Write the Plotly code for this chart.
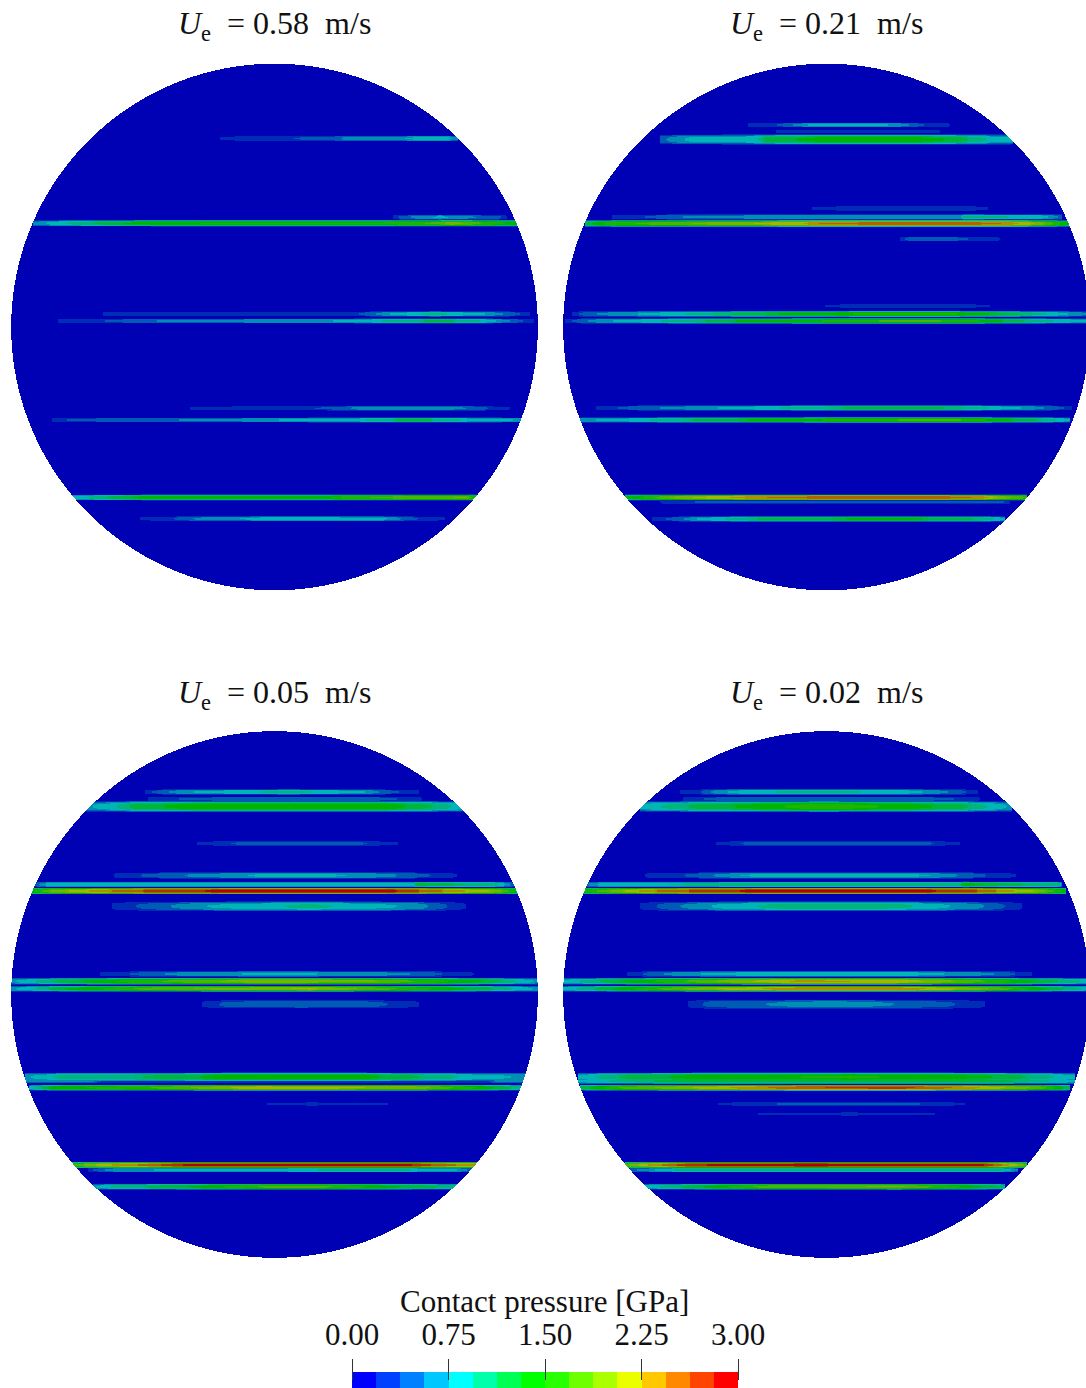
import numpy as np
import plotly.graph_objects as go

W, H = 1086, 1388

SPEEDS = ["0.58", "0.21", "0.05", "0.02"]
BAR_TICKS = [0.0, 0.75, 1.5, 2.25, 3.0]
BAR_EDGES = 16
BAND_COLOURS = [(0,0,255),(0,64,255),(0,128,255),(0,200,255),(0,255,255),(0,255,170),(0,255,85),(0,255,0),
                (40,255,0),(110,255,0),(170,255,0),(235,255,0),(255,200,0),(255,136,0),(255,68,0),(255,0,0)]
SHADE = 0.71

# each ridge: (y position, half thickness, x stations, pressure in GPa at the stations)
RIDGES_058 = [
 (138.5,3,[220,330,345,400,405,440,458],[.22,.45,.6,.65,.75,.85,.7]),
 (223.3,3.2,[33,60,120,200,380,440,450,490,519],[.6,.9,1.3,1.5,1.5,1.75,2.0,1.6,1.4]),
 (217.3,2.6,[393,413,440,500,507],[.3,.6,.8,.4,.25]),
 (314,2.8,[103,352,371,393,435,486,518,530],[.25,.3,.5,.8,1.0,.75,.4,.25]),
 (321,2.6,[58,93,109,181,310,352,414,445,486,525,534],[.25,.3,.4,.65,.7,.8,1.1,1.2,.9,.35,.28]),
 (408.3,2.6,[190,269,331,367,435,480,495,510],[.22,.3,.4,.7,.7,.5,.25,.2]),
 (420,2.6,[52,70,124,207,300,352,414,466,505,522],[.25,.4,.5,.6,.8,.85,1.25,.9,.8,.7]),
 (497.5,3,[72,114,145,331,373,466,477],[.8,1.2,1.4,1.5,1.7,1.9,1.4]),
 (518.7,2.6,[140,171,197,269,383,414,445],[.22,.35,.6,.85,.8,.4,.22]),
]
RIDGES_021 = [
 (125,2.6,[748,775,812,895,930,950],[.25,.35,.8,.75,.3,.22]),
 (131.5,2.4,[776,940],[.3,.3]),
 (139.5,5.2,[660,690,720,760,765,820,880,950,990,1013],[.5,.8,.8,.95,1.2,1.4,1.5,1.3,.9,.8]),
 (208.5,2.8,[812,870,960,988],[.22,.35,.35,.22]),
 (217,2.8,[612,640,690,800,960,963,1040,1062],[.22,.35,.6,.7,.7,1.0,.9,.5]),
 (223.5,3.3,[585,610,700,800,820,900,960,1000,1040,1070],[1.2,1.6,1.9,2.2,2.45,2.55,2.55,2.45,2.0,1.3]),
 (239,2.6,[900,910,950,980,1000],[.25,.5,.5,.3,.22]),
 (306,2.3,[825,870,960,990],[.22,.3,.3,.2]),
 (314,3,[572,600,700,800,900,960,1040,1086],[.3,.6,1.0,1.4,1.6,1.5,1.0,.6]),
 (321,2.8,[565,600,700,750,820,880,940,980,1040,1086],[.3,.7,1.1,1.4,1.5,1.7,1.7,1.5,1.0,.8]),
 (408,2.8,[596,640,700,800,880,960,1030,1072],[.25,.5,.7,1.0,1.25,1.1,.7,.3]),
 (420,2.8,[580,640,720,820,900,960,1040,1070],[.7,.9,1.25,1.5,1.7,1.7,1.1,.8]),
 (497.5,3,[625,640,680,720,780,855,930,980,1000,1027],[1.4,1.5,2.0,2.2,2.5,2.55,2.6,2.4,2.0,1.7]),
 (502,2.2,[660,715,1000,1010],[.25,.45,.45,.25]),
 (519,2.8,[652,680,700,770,900,980,1005],[.25,.5,.8,1.2,1.4,1.1,.8]),
]
RIDGES_005 = [
 (792,2.8,[145,181,217,290,362,388,419],[.3,.7,.85,1.0,.8,.45,.25]),
 (799,2.6,[148,189,259,352,393,422],[.3,.4,.55,.55,.4,.22]),
 (806.5,5.5,[86,114,135,186,290,393,435,455,478],[.7,.9,1.2,1.4,1.5,1.4,1.1,.9,.7]),
 (843.5,2.6,[197,238,300,362,398],[.25,.4,.55,.4,.22]),
 (875.5,3.4,[114,145,207,290,373,435,457],[.22,.4,.65,.85,.7,.35,.2]),
 (884.5,3,[34,47,124,414,416,497,515],[.4,.8,.9,.9,1.3,1.0,.4]),
 (891,3.4,[31,52,104,155,259,393,435,497,518],[1.4,1.9,2.4,2.7,2.95,2.85,2.5,2.0,1.4]),
 (906.3,5,[112,140,207,310,414,455,466],[.22,.4,.75,1.0,.7,.3,.2]),
 (974,3,[100,135,189,290,404,455,474],[.22,.4,.7,.8,.6,.3,.2]),
 (981.3,3.4,[11,62,135,259,373,486,538],[.7,1.2,1.6,2.0,1.9,1.3,.7]),
 (988.7,3,[11,31,62,155,310,414,486,538],[.7,.9,1.3,1.8,2.1,1.6,1.2,.7]),
 (1004.3,4.5,[202,228,300,362,419],[.22,.45,.55,.5,.22]),
 (1077,4.5,[25,62,135,259,362,466,526],[.7,1.0,1.1,1.5,1.4,.9,.7]),
 (1080.5,3,[25,93,104,486,497,530],[.6,.6,.3,.3,.65,.65]),
 (1087.7,3,[29,52,155,259,414,476,523],[.8,1.4,1.7,2.2,2.0,1.5,1.0]),
 (1104,2,[267,310,388],[.25,.3,.25]),
 (1165,3,[72,104,145,186,404,435,476,494],[1.7,2.2,2.5,2.85,2.9,2.6,2.3,1.8]),
 (1170,2.5,[88,114,259,393,455,476],[.3,.7,.9,1.0,.8,.4]),
 (1186.7,3,[93,114,186,269,321,383,445,466],[.7,1.0,1.3,1.75,1.75,1.4,1.1,.9]),
]
RIDGES_002 = [
 (792,3,[680,700,715,740,800,900,945,978],[.22,.35,.65,.85,1.0,.9,.6,.25]),
 (799,2.6,[683,716,780,900,950,980],[.25,.45,.55,.55,.4,.22]),
 (806.5,5.5,[640,670,700,760,820,900,960,1012],[.8,1.0,1.2,1.4,1.65,1.45,1.2,.7]),
 (843.5,2.6,[716,745,800,900,930,960],[.22,.4,.55,.55,.4,.22]),
 (875.5,3.4,[645,690,740,830,930,990,1016],[.22,.4,.75,.9,.75,.35,.2]),
 (884.5,3,[585,600,700,960,963,1060,1062],[.5,.8,1.0,1.1,1.4,1.0,.5]),
 (891,3.4,[583,620,650,700,800,900,970,1040,1066],[1.5,2.0,2.4,2.7,3.0,2.95,2.7,2.0,1.4]),
 (906.3,5,[640,670,720,800,900,980,1022],[.22,.5,.8,1.1,1.0,.6,.22]),
 (974,3,[627,650,680,760,900,990,1032],[.22,.45,.7,.9,.9,.6,.22]),
 (981.3,3.4,[563,620,720,800,900,1000,1086],[.8,1.3,1.9,2.3,2.2,1.6,.9]),
 (988.7,3,[563,620,700,800,900,1000,1086],[.8,1.4,2.0,2.4,2.4,1.8,.9]),
 (1004.3,5,[688,710,760,830,900,950,985],[.22,.45,.55,.7,.55,.4,.22]),
 (1077,4.5,[578,630,700,850,1000,1075],[.8,1.2,1.4,1.55,1.3,.8]),
 (1081,3,[578,670,1000,1075],[.8,1.2,1.2,.8]),
 (1087.7,3,[580,620,700,800,900,960,1040,1070],[1.2,1.7,2.1,2.6,2.7,2.4,1.8,1.2]),
 (1104,2.2,[718,785,900,965],[.22,.4,.45,.22]),
 (1114,2,[758,850,935],[.25,.3,.25]),
 (1165,3,[625,650,690,800,980,1000,1027],[1.8,2.3,2.8,2.95,2.9,2.5,1.8]),
 (1170,2.5,[630,680,800,1000,1018],[.5,1.0,1.1,1.0,.6]),
 (1186.7,3,[643,700,770,900,960,1005],[.8,1.3,1.8,1.9,1.5,1.1]),
]
ALL_RIDGES = [RIDGES_058, RIDGES_021, RIDGES_005, RIDGES_002]

# disk geometry and visible window per panel
DISK_X = [274.5, 826.5, 274.5, 826.5]
DISK_Y = [327.0, 327.0, 994.5, 994.5]
DISK_R = 263.3
WIN_X = [(11, 538), (563, 1086), (11, 538), (563, 1086)]
WIN_Y = [(64, 590), (64, 590), (731, 1258), (731, 1258)]


def stepped(colours, shade=1.0):
    n = len(colours)
    out = []
    for k, c in enumerate(colours):
        s = "rgb(%d,%d,%d)" % tuple(round(v * shade) for v in c)
        out += [[k / n, s], [(k + 1) / n, s]]
    return out


def field(ridges, cx, cy, win_x, win_y):
    xs = np.arange(win_x[0], win_x[1]) + 0.5
    ys = np.arange(win_y[0], win_y[1]) + 0.5
    X, Y = np.meshgrid(xs, ys)
    z = np.zeros_like(X)
    for y0, h, sx, sp in ridges:
        peak = np.interp(xs, sx, sp, left=0, right=0)
        prof = 1 - (np.abs(ys - y0) / (h * 1.05)) ** 3
        z = np.maximum(z, np.outer(np.clip(prof, 0, None), peak))
    z[(X - cx) ** 2 + (Y - cy) ** 2 > DISK_R ** 2] = np.nan
    return xs, ys, np.round(z, 3)


fig = go.Figure()
layout = {}
scale = stepped(BAND_COLOURS, SHADE)
for i in range(4):
    xs, ys, z = field(ALL_RIDGES[i], DISK_X[i], DISK_Y[i], WIN_X[i], WIN_Y[i])
    ax = "" if i == 0 else str(i + 1)
    fig.add_trace(go.Heatmap(x=xs, y=ys, z=z, xaxis="x" + ax, yaxis="y" + ax, zmin=0, zmax=3,
                             colorscale=scale, showscale=False, hoverongaps=False))
    layout["xaxis" + ax] = dict(domain=[WIN_X[i][0] / W, WIN_X[i][1] / W], range=list(WIN_X[i]), visible=False,
                                anchor="y" + ax)
    layout["yaxis" + ax] = dict(domain=[1 - WIN_Y[i][1] / H, 1 - WIN_Y[i][0] / H], range=[WIN_Y[i][1], WIN_Y[i][0]],
                                visible=False, anchor="x" + ax)

# colour bar as its own axes
mids = (np.arange(BAR_EDGES) + 0.5) * 3.0 / BAR_EDGES
fig.add_trace(go.Heatmap(x=mids, y=[0.5], z=[mids.tolist()], xaxis="x5", yaxis="y5", zmin=0, zmax=3,
                         colorscale=stepped(BAND_COLOURS), showscale=False))
layout["xaxis5"] = dict(domain=[352 / W, 738 / W], range=[0, 3], anchor="free", position=(H - 1379.5) / H, side="top",
                        tickmode="array", tickvals=BAR_TICKS, ticktext=["%.2f" % t for t in BAR_TICKS],
                        ticks="outside", ticklen=21, tickwidth=1, tickcolor="#333333", showgrid=False,
                        zeroline=False, showline=False, ticklabelstandoff=1, automargin=False,
                        tickfont=dict(family="Liberation Serif", size=31, color="#111111"))
layout["yaxis5"] = dict(domain=[0, 16 / H], range=[0, 1], visible=False, anchor="x5")

anns = []
TITLE_X = [274.5, 826.5, 274.5, 826.5]
TITLE_Y = [26, 26, 694, 694]
NB = "\u00a0"
for i in range(4):
    anns.append(dict(text="<i>U</i><sub>e</sub>%s = %s%s m/s" % (NB, SPEEDS[i], NB), x=TITLE_X[i] / W,
                     y=1 - TITLE_Y[i] / H, xref="paper", yref="paper", showarrow=False, xanchor="center",
                     yanchor="middle", font=dict(family="Liberation Serif", size=32, color="#111111")))
anns.append(dict(text="Contact pressure [GPa]", x=544 / W, y=1 - 1301 / H, xref="paper", yref="paper",
                 showarrow=False, xanchor="center", yanchor="middle",
                 font=dict(family="Liberation Serif", size=31, color="#111111")))

fig.update_layout(width=W, height=H, margin=dict(l=0, r=0, t=0, b=0, autoexpand=False), paper_bgcolor="white",
                  plot_bgcolor="white", showlegend=False, annotations=anns, **layout)
fig.write_html("out.html", config={"displayModeBar": False},
               post_script="document.body.style.margin='0';document.body.style.overflow='hidden';")
